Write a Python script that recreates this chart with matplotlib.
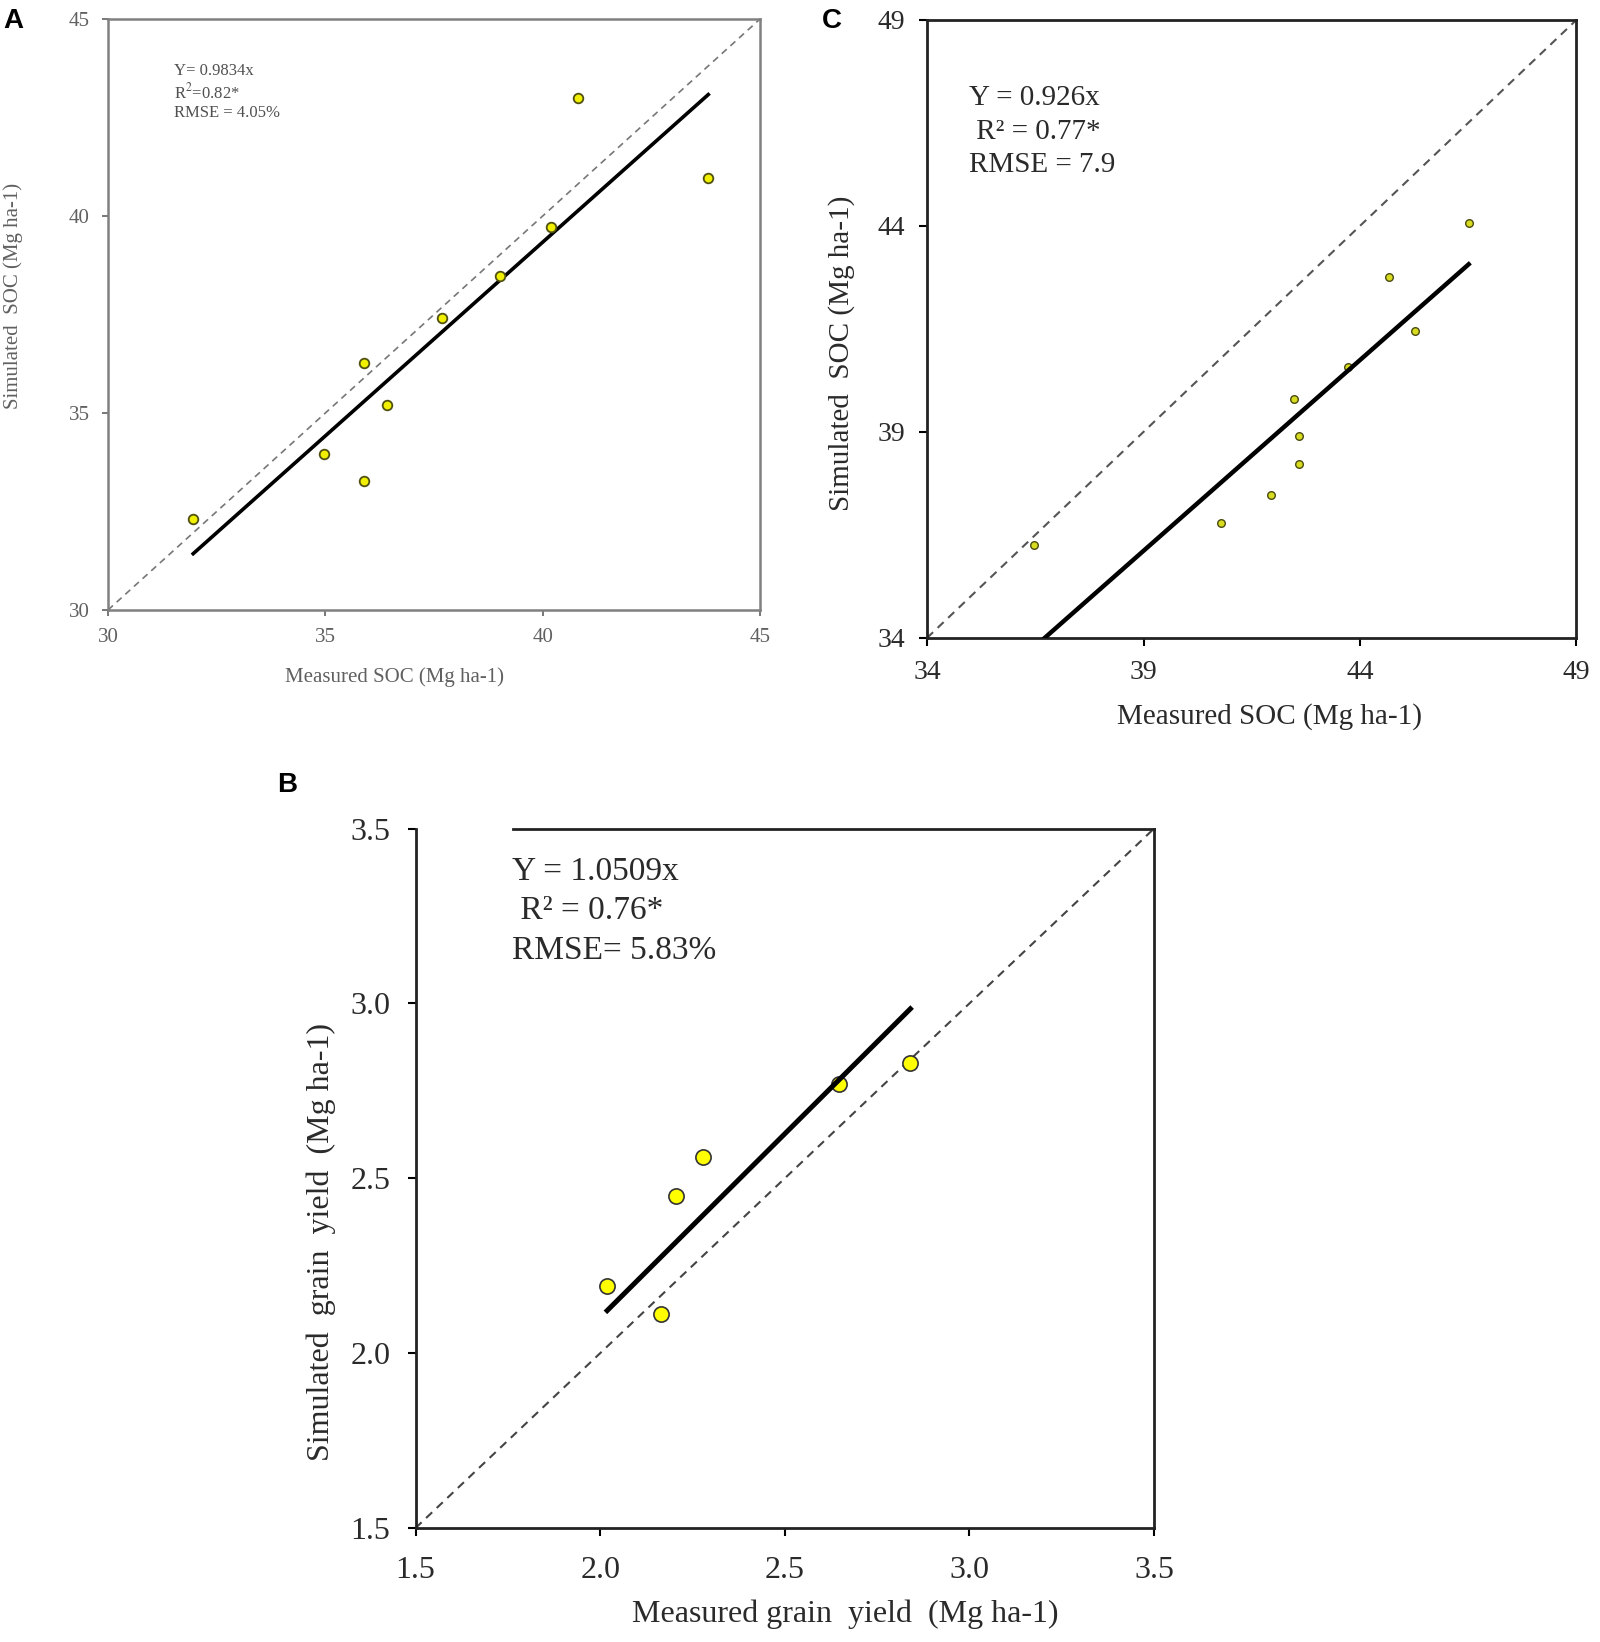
import matplotlib
matplotlib.use("Agg")
import matplotlib.pyplot as plt
import numpy as np

plt.rcParams['font.family'] = ['Liberation Serif', 'DejaVu Serif']
plt.rcParams['mathtext.fontset'] = 'stix'

# Panel A - SOC
a_measured = [31.96, 34.98, 35.88, 35.88, 36.43, 37.68, 39.01, 40.20, 40.81, 43.81]
a_simulated = [32.30, 33.97, 36.27, 33.27, 35.20, 37.40, 38.48, 39.71, 42.99, 40.96]
a_slope = 0.9834
a_ticks = [30, 35, 40, 45]
a_text = ["Y= 0.9834x", "R$^2$=0.82*", "RMSE = 4.05%"]

# Panel C - SOC
c_measured = [36.46, 40.78, 41.94, 42.58, 42.58, 42.47, 43.73, 45.26, 44.66, 46.51]
c_simulated = [36.26, 36.80, 37.47, 38.23, 38.90, 39.79, 40.58, 41.46, 42.75, 44.07]
c_slope = 0.926
c_ticks = [34, 39, 44, 49]
c_text = ["Y = 0.926x", " R² = 0.77*", "RMSE = 7.9"]

# Panel B - grain yield
b_measured = [2.019, 2.166, 2.205, 2.278, 2.648, 2.840]
b_simulated = [2.192, 2.113, 2.449, 2.561, 2.770, 2.829]
b_slope = 1.0509
b_ticks = [1.5, 2.0, 2.5, 3.0, 3.5]
b_text = ["Y = 1.0509x", " R² = 0.76*", "RMSE= 5.83%"]

fig = plt.figure(figsize=(16, 16.42), dpi=100)

# ---------- A ----------
axA = fig.add_axes([0.0675, 0.6285, 0.4075, 0.3599])
grey = '#606060'
axA.plot([a_ticks[0], a_ticks[-1]], [a_ticks[0], a_ticks[-1]], '--', color='#777777', lw=1.2, dashes=(4, 3))
xa = np.array([min(a_measured), max(a_measured)])
axA.plot(xa, a_slope * xa, color='black', lw=2.6, zorder=3)
axA.scatter(a_measured, a_simulated, s=48, c='#f0f000', edgecolors='#505010', linewidths=1.3, zorder=4)
axA.set_xlim(a_ticks[0], a_ticks[-1])
axA.set_ylim(a_ticks[0], a_ticks[-1])
axA.set_xticks(a_ticks)
axA.set_yticks(a_ticks)
axA.tick_params(direction='out', length=4, width=1.2, color=grey, labelsize=15, labelcolor=grey, pad=9)
for sp in axA.spines.values():
    sp.set_color('#808080')
    sp.set_linewidth(1.8)
axA.set_xlabel("Measured SOC (Mg ha-1)", fontsize=15, color=grey, va='center')
axA.xaxis.set_label_coords(0.44, -0.113)
axA.set_ylabel("Simulated  SOC (Mg ha-1)", fontsize=15, color=grey, va='center')
axA.yaxis.set_label_coords(-0.146, 0.531)
for t, yy in zip(a_text, [0.912, 0.876, 0.841]):
    axA.text(0.101, yy, t, transform=axA.transAxes, fontsize=12, color='#505050', ha='left', va='center')

# ---------- C ----------
axC = fig.add_axes([0.5794, 0.6115, 0.4059, 0.3764])
dark = '#2a2a2a'
axC.plot([c_ticks[0], c_ticks[-1]], [c_ticks[0], c_ticks[-1]], '--', color='#555555', lw=1.5, dashes=(4, 3))
xc = np.array([min(c_measured), max(c_measured)])
axC.scatter(c_measured, c_simulated, s=30, c='#d8dc20', edgecolors='#4a4a10', linewidths=1.0, zorder=3)
axC.plot(xc, c_slope * xc, color='black', lw=3.2, zorder=4)
axC.set_xlim(c_ticks[0], c_ticks[-1])
axC.set_ylim(c_ticks[0], c_ticks[-1])
axC.set_xticks(c_ticks)
axC.set_yticks(c_ticks)
axC.tick_params(direction='out', length=6, width=1.5, labelsize=20, labelcolor=dark, pad=10)
for sp in axC.spines.values():
    sp.set_color('#222222')
    sp.set_linewidth(2)
axC.set_xlabel("Measured SOC (Mg ha-1)", fontsize=21, color=dark, va='center')
axC.xaxis.set_label_coords(0.527, -0.128)
axC.set_ylabel("Simulated  SOC (Mg ha-1)", fontsize=21, color=dark, va='center')
axC.yaxis.set_label_coords(-0.131, 0.461)
for t, yy in zip(c_text, [0.874, 0.819, 0.765]):
    axC.text(0.064, yy, t, transform=axC.transAxes, fontsize=21, color=dark, ha='left', va='center')

# ---------- B ----------
axB = fig.add_axes([0.2597, 0.0694, 0.4616, 0.4260])
axB.plot([b_ticks[0], b_ticks[-1]], [b_ticks[0], b_ticks[-1]], '--', color='#444444', lw=1.5, dashes=(4, 3))
xb = np.array([min(b_measured), max(b_measured)])
axB.scatter(b_measured, b_simulated, s=120, c='#ffff00', edgecolors='#333333', linewidths=1.2, zorder=3)
axB.plot(xb, b_slope * xb, color='black', lw=3.6, zorder=4)
axB.set_xlim(b_ticks[0], b_ticks[-1])
axB.set_ylim(b_ticks[0], b_ticks[-1])
axB.set_xticks(b_ticks)
axB.set_yticks(b_ticks)
axB.set_xticklabels(["%.1f" % v for v in b_ticks])
axB.set_yticklabels(["%.1f" % v for v in b_ticks])
axB.tick_params(direction='out', length=6, width=1.5, labelsize=23, labelcolor=dark, pad=12)
axB.tick_params(axis='x', pad=14)
for sp in axB.spines.values():
    sp.set_color('#222222')
    sp.set_linewidth(2)
axB.spines['top'].set_bounds(1.763, 3.5)
axB.set_xlabel("Measured grain  yield  (Mg ha-1)", fontsize=23, color=dark, va='center')
axB.xaxis.set_label_coords(0.582, -0.123)
axB.set_ylabel("Simulated  grain  yield  (Mg ha-1)", fontsize=23, color=dark, va='center')
axB.yaxis.set_label_coords(-0.127, 0.409)
for t, yy in zip(b_text, [0.938, 0.883, 0.826]):
    axB.text(0.131, yy, t, transform=axB.transAxes, fontsize=24, color=dark, ha='left', va='center')

# panel letters
for lab, x, y in [("A", 3, 8), ("C", 822, 8), ("B", 277, 772)]:
    fig.text(x / 1600, 1 - y / 1642, lab, fontsize=20, fontweight='bold',
             family=['Liberation Sans', 'DejaVu Sans'], ha='left', va='top')

fig.savefig("out.png", dpi=100)
